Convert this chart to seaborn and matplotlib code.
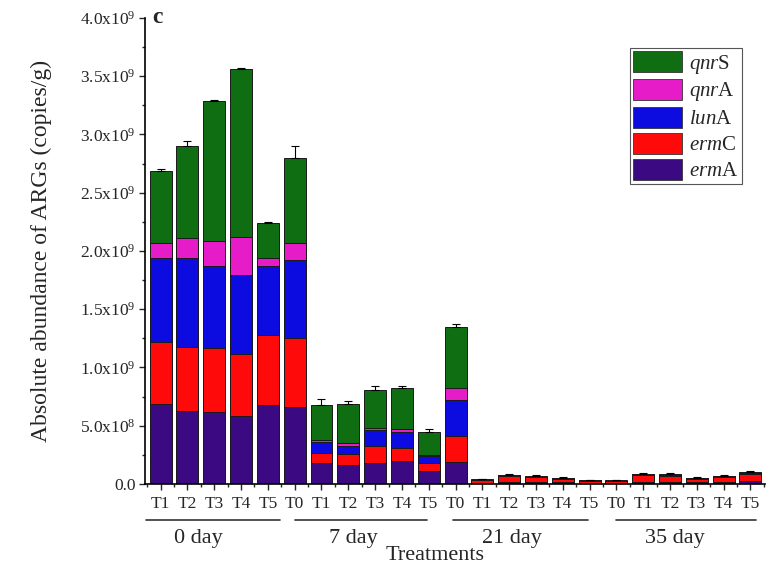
import numpy as np
import pandas as pd
import matplotlib
matplotlib.use("Agg")
import matplotlib.pyplot as plt
import seaborn as sns
from matplotlib.patches import Patch

# abundances in units of 1e9 copies/g, 23 bars (0 day T1-T5, then T0-T5 for 7, 21, 35 day)
tick_labels = ["T1", "T2", "T3", "T4", "T5",
               "T0", "T1", "T2", "T3", "T4", "T5",
               "T0", "T1", "T2", "T3", "T4", "T5",
               "T0", "T1", "T2", "T3", "T4", "T5"]
groups = ["0 day", "7 day", "21 day", "35 day"]

ermA = [0.69, 0.63, 0.62, 0.58, 0.68,
        0.66, 0.18, 0.16, 0.18, 0.20, 0.11,
        0.19, 0.012, 0.02, 0.018, 0.02, 0.012,
        0.012, 0.02, 0.02, 0.018, 0.018, 0.025]
ermC = [0.53, 0.55, 0.55, 0.54, 0.60,
        0.59, 0.09, 0.10, 0.15, 0.11, 0.07,
        0.22, 0.018, 0.045, 0.038, 0.022, 0.014,
        0.01, 0.055, 0.05, 0.025, 0.04, 0.06]
lunA = [0.72, 0.76, 0.70, 0.67, 0.59,
        0.67, 0.09, 0.07, 0.13, 0.14, 0.06,
        0.31, 0.004, 0.006, 0.005, 0.005, 0.004,
        0.003, 0.006, 0.006, 0.005, 0.005, 0.008]
qnrA = [0.13, 0.17, 0.22, 0.33, 0.07,
        0.15, 0.02, 0.02, 0.02, 0.02, 0.01,
        0.10, 0.002, 0.002, 0.002, 0.002, 0.001,
        0.001, 0.002, 0.002, 0.002, 0.002, 0.002]
qnrS = [0.62, 0.79, 1.20, 1.44, 0.30,
        0.73, 0.30, 0.34, 0.33, 0.35, 0.20,
        0.53, 0.004, 0.007, 0.007, 0.006, 0.004,
        0.004, 0.007, 0.007, 0.005, 0.005, 0.01]
err_top = [0.01, 0.04, 0.01, 0.01, 0.01,
           0.10, 0.05, 0.02, 0.03, 0.02, 0.02,
           0.02, 0.005, 0.005, 0.005, 0.004, 0.003,
           0.003, 0.006, 0.006, 0.004, 0.005, 0.006]

genes = ["ermA", "ermC", "lunA", "qnrA", "qnrS"]
gene_labels = ["$\\mathit{erm}$A", "$\\mathit{erm}$C", "$\\mathit{lun}$A",
               "$\\mathit{qnr}$A", "$\\mathit{qnr}$S"]
colors = ["#3b0a82", "#ff0a0a", "#0c0ce0", "#e61cc8", "#0f6e12"]

yticks = [0, 0.5e9, 1.0e9, 1.5e9, 2.0e9, 2.5e9, 3.0e9, 3.5e9, 4.0e9]
ytick_labels = ["0.0", "5.0x10$^8$", "1.0x10$^9$", "1.5x10$^9$", "2.0x10$^9$",
                "2.5x10$^9$", "3.0x10$^9$", "3.5x10$^9$", "4.0x10$^9$"]

sns.set_style("ticks")
plt.rcParams["font.family"] = ["Liberation Serif", "DejaVu Serif"]
plt.rcParams["mathtext.fontset"] = "custom"
plt.rcParams["mathtext.rm"] = "Liberation Serif"
plt.rcParams["mathtext.it"] = "Liberation Serif:italic"
plt.rcParams["mathtext.bf"] = "Liberation Serif:bold"

pos = np.arange(len(tick_labels))
df = pd.DataFrame({"pos": pos, "ermA": ermA, "ermC": ermC, "lunA": lunA,
                   "qnrA": qnrA, "qnrS": qnrS})
cum = df[genes].cumsum(axis=1) * 1e9

fig = plt.figure(figsize=(7.76, 5.69), dpi=100)
ax = fig.add_axes([0.187, 0.1494, 0.799, 0.819])

# stacked bars drawn as overlapping cumulative bars, top layer first
for g, c in reversed(list(zip(genes, colors))):
    sns.barplot(x=df["pos"], y=cum[g], color=c, saturation=1, width=0.82,
                edgecolor="#1a1a1a", linewidth=0.7, errorbar=None, ax=ax)

totals = cum["qnrS"].values
ax.errorbar(pos, totals, yerr=[np.zeros(len(pos)), np.array(err_top) * 1e9],
            fmt="none", ecolor="black", elinewidth=0.8, capsize=3, capthick=0.8)

ax.set_xlim(-0.58, 22.55)
ax.set_ylim(0, 4.0e9)
ax.set_xticks(pos)
ax.set_xticklabels(tick_labels, fontsize=12.5)
ax.set_xticks(np.arange(-0.5, 23, 1), minor=True)
ax.set_yticks(yticks)
ax.set_yticklabels(ytick_labels, fontsize=12.5)
ax.set_yticks(np.arange(0.25e9, 4.0e9, 0.5e9), minor=True)
ax.tick_params(which="major", length=4, width=1, direction="out", pad=3)
ax.tick_params(which="minor", length=2.5, width=1, direction="out")
ax.tick_params(axis="x", which="major", pad=5)
sns.despine(ax=ax)
for s in ["left", "bottom"]:
    ax.spines[s].set_linewidth(1.2)
    ax.spines[s].set_color("black")

ax.set_xlabel("Treatments", fontsize=16)
ax.xaxis.set_label_coords(0.468, -0.132)
ax.set_ylabel("Absolute abundance of ARGs (copies/g)", fontsize=17)
ax.yaxis.set_label_coords(-0.15, 0.5)

# group underlines and labels below the tick labels
trans = ax.get_xaxis_transform()
spans = [(-0.54, 4.46), (5.0, 9.95), (10.9, 15.95), (17.0, 22.2)]
label_x = [1.4, 7.2, 13.1, 19.2]
for (a, b), lx, name in zip(spans, label_x, groups):
    ax.plot([a, b], [-0.077, -0.077], color="#333333", lw=1.2,
            transform=trans, clip_on=False)
    ax.text(lx, -0.118, name, transform=trans, ha="center", va="center",
            fontsize=16)

handles = [Patch(facecolor=c, edgecolor="#333333", linewidth=0.6) for c in colors]
leg = ax.legend(handles[::-1], gene_labels[::-1], loc="upper right",
                bbox_to_anchor=(0.962, 0.9356), borderaxespad=0, fontsize=15,
                handlelength=2.35, handleheight=1.15, labelspacing=0.17,
                borderpad=0.15, handletextpad=0.35, frameon=True, fancybox=False,
                framealpha=1, edgecolor="#555555")
leg.get_frame().set_linewidth(0.8)

fig.text(0.196, 0.970, "c", fontsize=17, fontweight="bold", ha="left", va="center")

fig.savefig("out.png", dpi=100)
